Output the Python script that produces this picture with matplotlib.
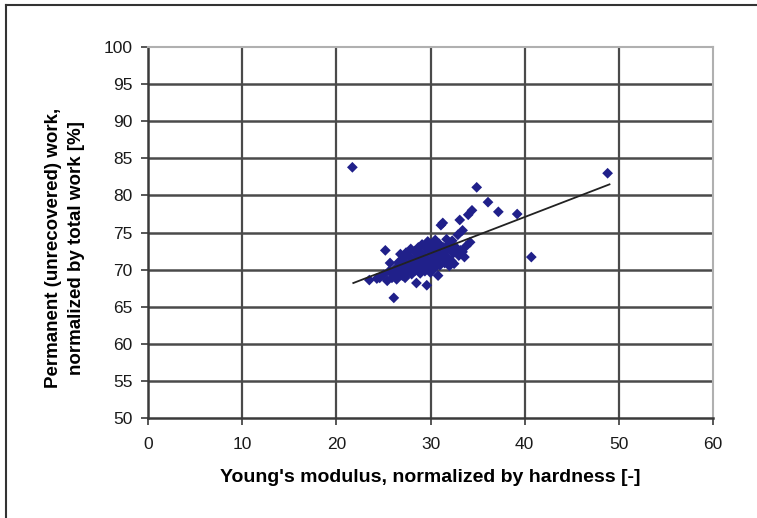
import matplotlib
matplotlib.use('Agg')
import matplotlib.pyplot as plt
from matplotlib.lines import Line2D

plt.rcParams['font.family'] = ['Liberation Sans', 'DejaVu Sans']

# measured points: Young's modulus / hardness vs. permanent work fraction
E_over_H = [23.5, 24.3, 24.6, 25.0, 25.2, 25.4, 25.6, 25.7, 25.9, 26.1,
            26.2, 26.3, 26.4, 26.6, 26.7, 26.8, 26.9, 27.0, 27.1, 27.2,
            27.3, 27.4, 27.5, 27.6, 27.7, 27.8, 27.9, 28.0, 28.1, 28.2,
            28.3, 28.4, 28.5, 28.5, 28.6, 28.7, 28.8, 28.9, 29.0, 29.0,
            29.1, 29.2, 29.3, 29.4, 29.5, 29.5, 29.6, 29.6, 29.7, 29.8,
            29.9, 30.0, 30.0, 30.1, 30.2, 30.3, 30.4, 30.5, 30.5, 30.6,
            30.7, 30.8, 30.9, 31.0, 31.0, 31.1, 31.2, 31.3, 31.4, 31.5,
            31.6, 31.7, 31.8, 31.9, 32.0, 32.1, 32.2, 32.3, 32.4, 32.5,
            32.7, 32.9, 33.0, 33.1, 33.2, 33.4, 33.4, 33.6, 33.8, 34.0,
            34.2, 34.4, 34.9, 36.1, 37.2, 39.2, 40.7, 21.7, 48.8]
perm_work = [68.6, 68.8, 68.9, 69.3, 72.6, 68.5, 69.8, 70.9, 68.9, 66.2,
             69.5, 70.2, 68.7, 71.0, 69.9, 72.1, 70.5, 69.2, 71.5, 70.0,
             68.9, 72.3, 70.8, 69.6, 71.9, 70.3, 72.8, 69.4, 71.2, 70.6,
             72.5, 69.9, 68.2, 71.6, 70.1, 73.0, 70.9, 69.5, 72.2, 71.0,
             73.4, 70.4, 71.8, 69.8, 72.9, 70.7, 67.9, 71.4, 73.8, 70.2,
             72.4, 71.1, 69.6, 73.2, 70.8, 72.0, 71.5, 74.0, 70.3, 72.7,
             71.3, 69.2, 73.5, 72.1, 70.6, 76.0, 71.8, 76.3, 73.0, 70.9,
             72.5, 74.1, 71.6, 73.3, 70.5, 72.8, 71.2, 73.9, 72.2, 70.8,
             73.0, 74.7, 71.9, 76.7, 72.6, 75.3, 72.4, 71.7, 73.2, 77.4,
             73.7, 78.0, 81.1, 79.1, 77.8, 77.5, 71.7, 83.8, 83.0]

# linear trend line ends
trend_x = [21.8, 49.0]
trend_y = [68.2, 81.5]

fig = plt.figure(figsize=(7.57, 5.18), dpi=100)
ax = fig.add_axes([0.1955, 0.193, 0.7465, 0.716])

ax.set_xlim(0, 60)
ax.set_ylim(50, 100)
ax.set_xticks(range(0, 61, 10))
ax.set_yticks(range(50, 101, 5))

for v in range(10, 60, 10):
    ax.axvline(v, color='#4a4a4a', lw=1.6, zorder=1)
for v in range(55, 100, 5):
    ax.axhline(v, color='#4a4a4a', lw=1.8, zorder=1)

ax.scatter(E_over_H, perm_work, marker='D', s=30, color='#20208a',
           edgecolors='none', zorder=3)
ax.plot(trend_x, trend_y, color='#222222', lw=1.3, zorder=4)

for side in ['top', 'right']:
    ax.spines[side].set_color('#b0b0b0')
    ax.spines[side].set_linewidth(1.5)
for side in ['left', 'bottom']:
    ax.spines[side].set_color('#3a3a3a')
    ax.spines[side].set_linewidth(1.8)

ax.tick_params(axis='both', direction='out', length=5, width=1.2,
               color='#3a3a3a', labelsize=12.5, labelcolor='#1a1a1a')
ax.tick_params(axis='x', pad=9)
ax.tick_params(axis='y', pad=6)

ax.set_xlabel("Young's modulus, normalized by hardness [-]",
              fontsize=14, fontweight='bold', labelpad=12)
ax.set_ylabel("Permanent (unrecovered) work,\nnormalized by total work [%]",
              fontsize=13.5, fontweight='bold', linespacing=1.45)
ax.yaxis.set_label_coords(-0.112, 0.458)

# outer frame (left and top edges)
fig.add_artist(Line2D([0.008, 0.008], [0.0, 0.99], transform=fig.transFigure,
                      color='#333333', lw=1.5))
fig.add_artist(Line2D([0.008, 1.0], [0.99, 0.99], transform=fig.transFigure,
                      color='#333333', lw=1.5))

fig.savefig('out.png', dpi=100)
